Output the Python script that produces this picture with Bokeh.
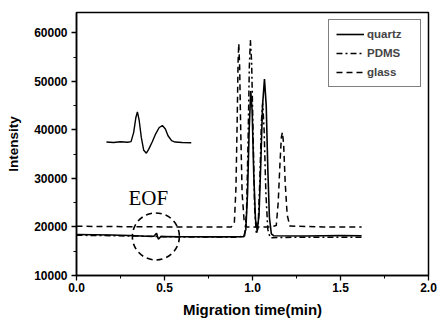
from bokeh.plotting import figure
from bokeh.models import Legend, LegendItem, FixedTicker, PrintfTickFormatter
from bokeh.core.properties import value
from bokeh.embed import file_html
from bokeh.resources import INLINE

# ---- data ----
quartz_x = [0.00, 0.10, 0.20, 0.30, 0.40, 0.44, 0.455, 0.465, 0.48, 0.60, 0.80, 0.95,
            0.962, 0.972, 0.981, 0.990, 0.998, 1.007, 1.017, 1.027, 1.037, 1.047, 1.057,
            1.068, 1.078, 1.087, 1.096, 1.107, 1.12, 1.30, 1.50, 1.62]
quartz_y = [18450, 18400, 18350, 18250, 18100, 18100, 18700, 17500, 18050, 18000, 17950, 18000,
            19500, 27000, 40000, 48000, 44000, 31000, 21500, 19300, 22500, 33000, 45000,
            50500, 45000, 32000, 22000, 18600, 18200, 18150, 18250, 18200]

pdms_x = [0.00, 0.30, 0.60, 0.90, 0.955, 0.966, 0.975, 0.982, 0.988, 0.995, 1.003, 1.012,
          1.022, 1.032, 1.042, 1.051, 1.058, 1.066, 1.076, 1.087, 1.10, 1.30, 1.62]
pdms_y = [18300, 18150, 17950, 17900, 18100, 23000, 38000, 53000, 58500, 54000, 40000, 24000,
          18500, 20000, 30000, 42000, 45500, 40000, 27000, 19500, 17800, 17900, 17900]

glass_x = [0.00, 0.30, 0.60, 0.88, 0.897, 0.906, 0.913, 0.918, 0.922, 0.927, 0.933, 0.941,
           0.952, 0.967, 1.10, 1.135, 1.146, 1.156, 1.164, 1.170, 1.177, 1.186, 1.197, 1.212,
           1.40, 1.62]
glass_y = [20150, 20050, 20000, 20000, 21000, 28000, 42000, 54000, 57800, 53000, 40000, 27000,
           21500, 20000, 20000, 20300, 25000, 33000, 38500, 39500, 37000, 29000, 22500, 20200,
           20000, 20000]

inset_x = [0.17, 0.21, 0.25, 0.29, 0.31, 0.325, 0.337, 0.346, 0.356, 0.368, 0.382, 0.397,
           0.41, 0.43, 0.45, 0.47, 0.488, 0.505, 0.52, 0.54, 0.56, 0.60, 0.652]
inset_y = [37500, 37400, 37550, 37450, 37600, 39500, 42500, 43700, 42000, 38500, 35800, 35200,
           36000, 37500, 39200, 40500, 40900, 40200, 38800, 37800, 37500, 37400, 37350]

x_ticks = [0.0, 0.5, 1.0, 1.5, 2.0]
y_ticks = [10000, 20000, 30000, 40000, 50000, 60000]
series_names = ["quartz", "PDMS", "glass"]

eof_label = "EOF"
eof_text_pos = (0.408, 26000)
eof_circle_pos = (0.451, 18050)

FONT = "Liberation Sans"

p = figure(width=438, height=320, output_backend="svg", toolbar_location=None,
           x_range=(0, 2.0), y_range=(10000, 64200),
           min_border_left=76, min_border_right=10, min_border_top=12, min_border_bottom=45)
p.background_fill_color = "white"
p.border_fill_color = "white"
p.grid.visible = False
p.outline_line_color = "black"
p.outline_line_width = 1.5

r_q = p.line(quartz_x, quartz_y, line_color="black", line_width=1.6)
r_p = p.line(pdms_x, pdms_y, line_color="black", line_width=1.5, line_dash="6 3 2 3")
r_g = p.line(glass_x, glass_y, line_color="black", line_width=1.5, line_dash="6 4")
p.line(inset_x, inset_y, line_color="black", line_width=1.4)

p.text(x=[eof_text_pos[0]], y=[eof_text_pos[1]], text=[eof_label],
       text_font=value("Liberation Serif"), text_font_size="21px",
       text_align="center", text_baseline="alphabetic", text_color="black")
p.circle(x=[eof_circle_pos[0]], y=[eof_circle_pos[1]], radius=23.5, radius_units="screen",
         fill_color=None, line_color="black", line_width=1.6, line_dash="6 4")

legend = Legend(items=[LegendItem(label=series_names[0], renderers=[r_q]),
                       LegendItem(label=series_names[1], renderers=[r_p]),
                       LegendItem(label=series_names[2], renderers=[r_g])],
                location="top_right", margin=7, padding=7, spacing=5,
                glyph_width=28, glyph_height=14, label_height=14, label_width=46,
                label_standoff=3, label_text_font=FONT, label_text_font_size="11.5px",
                label_text_font_style="bold", border_line_color="black", border_line_width=1,
                background_fill_alpha=1)
p.add_layout(legend)

p.xaxis.ticker = FixedTicker(ticks=x_ticks, minor_ticks=[0.25, 0.75, 1.25, 1.75])
p.yaxis.ticker = FixedTicker(ticks=y_ticks, minor_ticks=[15000, 25000, 35000, 45000, 55000])
p.xaxis.formatter = PrintfTickFormatter(format="%.1f")
p.yaxis.formatter = PrintfTickFormatter(format="%d")

for ax in (p.xaxis, p.yaxis):
    ax.axis_line_width = 1.5
    ax.major_tick_out = 5
    ax.major_tick_in = 0
    ax.minor_tick_out = 3
    ax.minor_tick_in = 0
    ax.major_tick_line_width = 1.3
    ax.major_label_text_font = FONT
    ax.major_label_text_font_style = "bold"
    ax.major_label_text_font_size = "12px"
    ax.major_label_text_color = "black"
    ax.axis_label_text_font = FONT
    ax.axis_label_text_font_style = "bold"
    ax.axis_label_text_color = "black"

p.xaxis.axis_label = "Migration time(min)"
p.yaxis.axis_label = "Intensity"
p.xaxis.axis_label_text_font_size = "15px"
p.yaxis.axis_label_text_font_size = "13.5px"
p.xaxis.major_label_standoff = 2
p.yaxis.major_label_standoff = 4
p.xaxis.axis_label_standoff = 6
p.yaxis.axis_label_standoff = 10

open("out.html", "w").write(file_html(p, INLINE))
